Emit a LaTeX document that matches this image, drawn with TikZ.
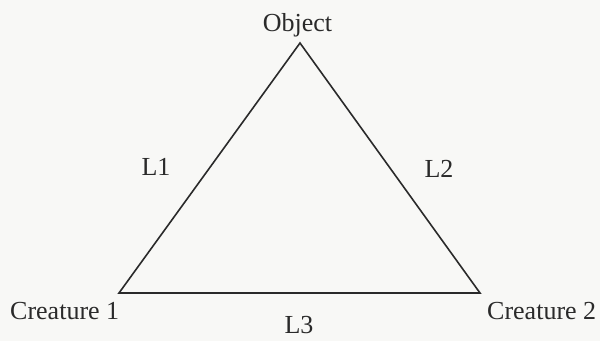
\documentclass[tikz,border=0pt]{standalone}
\usepackage{fontspec}
\setmainfont{Liberation Serif}
\definecolor{bg}{HTML}{F8F8F6}
\definecolor{ink}{HTML}{2A2A2A}
\begin{document}
\begin{tikzpicture}[x=1pt,y=-1pt,
  lbl/.style={font=\fontsize{26}{30}\selectfont, text=ink, inner sep=0pt, anchor=base},
  edge/.style={draw=ink, line width=1.6pt, line join=miter}]
\fill[bg] (0,0) rectangle (600,341);
\useasboundingbox (0,0) rectangle (600,341);
\coordinate (top) at (300,43);
\coordinate (bl) at (119,293);
\coordinate (br) at (480,293);
\draw[edge] (top) -- (bl) -- (br) -- cycle;
\node[lbl] (obj) at (297.5,31) {Object};
\node[lbl, anchor=base west] (c1) at (10,319) {Creature 1};
\node[lbl, anchor=base west] (c2) at (487,319) {Creature 2};
\node[lbl] (l1) at (156,175) {L1};
\node[lbl] (l2) at (439,177) {L2};
\node[lbl] (l3) at (299,333) {L3};
\end{tikzpicture}
\end{document}
